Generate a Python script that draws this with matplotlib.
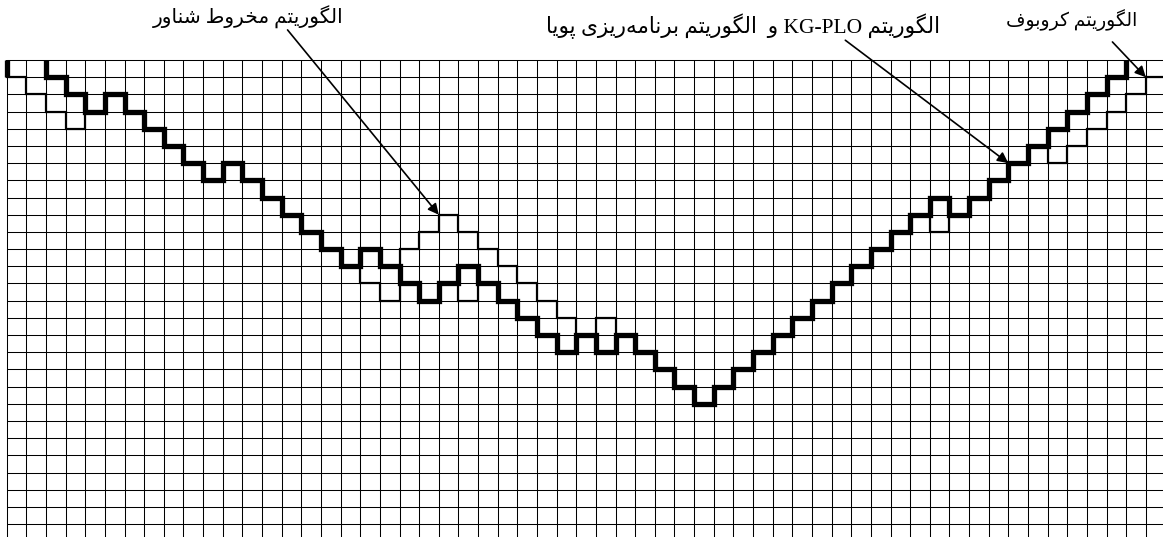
import re
import numpy as np
import matplotlib
matplotlib.use("Agg")
import matplotlib.pyplot as plt

# pit depth (in blocks) of each column
n_cols = 59
n_rows = 27
kg_plo_dp = [0, 0, 1, 2, 3, 2, 3, 4, 5, 6,
             7, 6, 7, 8, 9, 10, 11, 12, 11, 12,
             13, 14, 13, 12, 13, 14, 15, 16, 17, 16,
             17, 16, 17, 18, 19, 20, 19, 18, 17, 16,
             15, 14, 13, 12, 11, 10, 9, 8, 9, 8,
             7, 6, 5, 4, 3, 2, 1, 0, 0]
floating_cone = [0, 0, 1, 2, 3, 2, 3, 4, 5, 6,
                 7, 6, 7, 8, 9, 10, 11, 12, 11, 12,
                 11, 10, 9, 10, 11, 12, 13, 14, 15, 16,
                 15, 16, 17, 18, 19, 20, 19, 18, 17, 16,
                 15, 14, 13, 12, 11, 10, 9, 8, 9, 8,
                 7, 6, 5, 4, 3, 2, 1, 0, 0]
korobov = [1, 2, 3, 4, 3, 2, 3, 4, 5, 6,
           7, 6, 7, 8, 9, 10, 11, 12, 13, 14,
           13, 14, 13, 14, 13, 14, 15, 16, 17, 16,
           17, 16, 17, 18, 19, 20, 19, 18, 17, 16,
           15, 14, 13, 12, 11, 10, 9, 10, 9, 8,
           7, 6, 5, 6, 5, 4, 3, 2, 1]

label_fc = "الگوریتم مخروط شناور"
label_kg = "الگوریتم KG-PLO و  الگوریتم برنامه\u200cریزی پویا"
label_kr = "الگوریتم کروبوف"

# --- tiny persian shaper (matplotlib has no arabic shaping / bidi) ---
FORMS = {
    "ا": ("\uFE8D", "\uFE8E", None, None),
    "د": ("\uFEA9", "\uFEAA", None, None),
    "ر": ("\uFEAD", "\uFEAE", None, None),
    "ز": ("\uFEAF", "\uFEB0", None, None),
    "و": ("\uFEED", "\uFEEE", None, None),
    "ب": ("\uFE8F", "\uFE90", "\uFE91", "\uFE92"),
    "پ": ("\uFB56", "\uFB57", "\uFB58", "\uFB59"),
    "ت": ("\uFE95", "\uFE96", "\uFE97", "\uFE98"),
    "خ": ("\uFEA5", "\uFEA6", "\uFEA7", "\uFEA8"),
    "ش": ("\uFEB5", "\uFEB6", "\uFEB7", "\uFEB8"),
    "ط": ("\uFEC1", "\uFEC2", "\uFEC3", "\uFEC4"),
    "ف": ("\uFED1", "\uFED2", "\uFED3", "\uFED4"),
    "ک": ("\uFB8E", "\uFB8F", "\uFB90", "\uFB91"),
    "گ": ("\uFB92", "\uFB93", "\uFB94", "\uFB95"),
    "ل": ("\uFEDD", "\uFEDE", "\uFEDF", "\uFEE0"),
    "م": ("\uFEE1", "\uFEE2", "\uFEE3", "\uFEE4"),
    "ن": ("\uFEE5", "\uFEE6", "\uFEE7", "\uFEE8"),
    "ه": ("\uFEE9", "\uFEEA", "\uFEEB", "\uFEEC"),
    "ی": ("\uFBFC", "\uFBFD", "\uFBFE", "\uFBFF"),
}


def shape(text):
    out = []
    for i, ch in enumerate(text):
        if ch not in FORMS:
            if ch != "\u200c":
                out.append(ch)
            continue
        prev = text[i - 1] if i > 0 else ""
        nxt = text[i + 1] if i + 1 < len(text) else ""
        jp = prev in FORMS and FORMS[prev][2] is not None
        jn = FORMS[ch][2] is not None and nxt in FORMS
        out.append(FORMS[ch][jp + 2 * jn] if FORMS[ch][jp + 2 * jn] else FORMS[ch][jp])
    return "".join(out)


def rtl(text):
    runs = re.findall(r"[A-Za-z0-9\-]+|[^A-Za-z0-9\-]+", text)
    vis = [r if re.match(r"[A-Za-z0-9\-]", r) else shape(r)[::-1] for r in runs]
    return "".join(vis[::-1])


def step_path(depth):
    d = np.asarray(depth)
    nz = np.nonzero(d)[0]
    cols = np.arange(nz[0], nz[-1] + 1)
    xs = np.concatenate([[cols[0]], np.repeat(cols, 2) + np.tile([0, 1], len(cols)), [cols[-1] + 1]])
    ys = np.concatenate([[0], np.repeat(d[cols], 2), [0]])
    return xs, ys


fig = plt.figure(figsize=(11.63, 5.37), dpi=100)
ax = fig.add_axes([0, 0, 1, 1])
ax.set_xlim(-6.7 / 19.64, (1163 - 6.7) / 19.64)
ax.set_ylim((537 - 60) / 17.19, -60 / 17.19)
ax.axis("off")

# block grid
ax.hlines(np.arange(n_rows + 1), 0, n_cols + 1, color="black", lw=0.75)
ax.vlines(np.arange(n_cols), 0, n_rows + 1, color="black", lw=0.75)

thin = dict(color="black", lw=1.6, solid_joinstyle="miter", solid_capstyle="butt")
ax.plot(*step_path(korobov), **thin)
ax.plot(*step_path(floating_cone), **thin)
ax.plot(*step_path(kg_plo_dp), color="black", lw=3.8, solid_joinstyle="miter", solid_capstyle="butt")
ax.plot([0, 0], [0, korobov[0]], color="black", lw=3.8, solid_capstyle="butt")

# labels + arrows
fam = ["Liberation Serif", "DejaVu Sans"]
ax.text(12.3, -2.45, rtl(label_fc), family=fam, fontsize=14.5, ha="center", va="center")
ax.text(37.5, -1.95, rtl(label_kg), family=fam, fontsize=15.5, ha="center", va="center")
ax.text(54.2, -2.3, rtl(label_kr), family=fam, fontsize=13.5, ha="center", va="center")

arrow = dict(arrowstyle="-|>", color="black", lw=1.2, mutation_scale=16, shrinkA=0, shrinkB=0)
ax.annotate("", xy=(22, floating_cone[22]), xytext=(14.3, -1.75), arrowprops=arrow)
ax.annotate("", xy=(51, kg_plo_dp[51]), xytext=(42.7, -1.15), arrowprops=arrow)
ax.annotate("", xy=(58, korobov[58]), xytext=(56.3, -1.05), arrowprops=arrow)

fig.savefig("out.png", dpi=100)
